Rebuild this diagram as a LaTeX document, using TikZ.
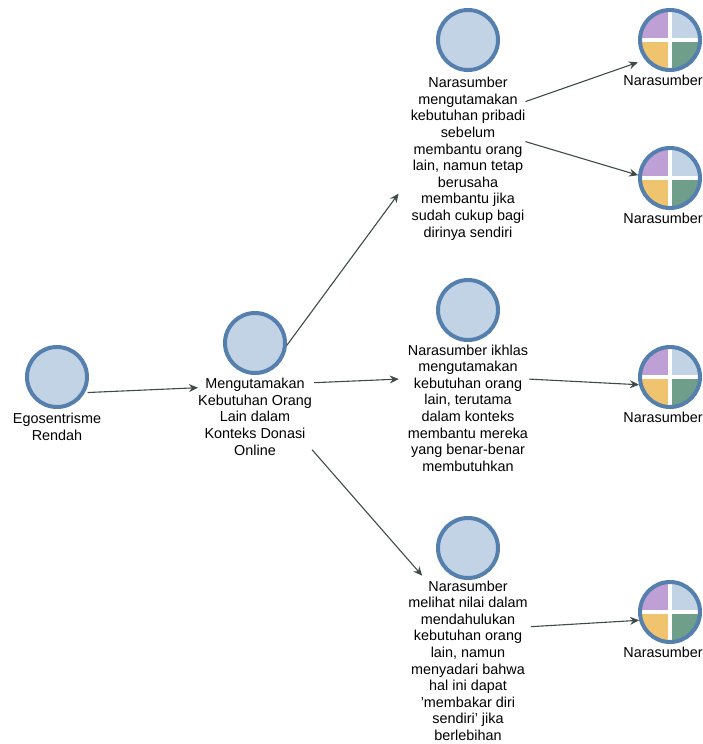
\documentclass[tikz,border=0pt]{standalone}
\usepackage{fontspec}
\setmainfont{Liberation Sans}
\usetikzlibrary{positioning,arrows.meta}
\definecolor{ringblue}{HTML}{5580AE}
\definecolor{discblue}{HTML}{C3D3E6}
\definecolor{quadpurple}{HTML}{BE9FD6}
\definecolor{quadyellow}{HTML}{F0C46E}
\definecolor{quadgreen}{HTML}{6F9F8B}
\definecolor{linkgrey}{HTML}{3E4B49}
\tikzset{
    theme/.style={circle,draw=ringblue,line width=4pt,fill=discblue,minimum size=60pt,inner sep=0pt},
    casenode/.style={theme,path picture={
        \fill[quadpurple] (path picture bounding box.center) rectangle (path picture bounding box.north west);
        \fill[discblue] (path picture bounding box.center) rectangle (path picture bounding box.north east);
        \fill[quadyellow] (path picture bounding box.center) rectangle (path picture bounding box.south west);
        \fill[quadgreen] (path picture bounding box.center) rectangle (path picture bounding box.south east);
        \draw[white,line width=3.2pt] (path picture bounding box.north) -- (path picture bounding box.south);
        \draw[white,line width=3.2pt] (path picture bounding box.west) -- (path picture bounding box.east);
    }},
    caption/.style={align=center,inner sep=0pt,font=\fontsize{14.4}{16.6}\selectfont},
    link/.style={-{Stealth[length=9pt,width=8pt,inset=3pt]},linkgrey,line width=1.1pt}
}
\begin{document}
\begin{tikzpicture}[x=1pt,y=-1pt]
        \useasboundingbox (0,0) rectangle (703,744);
        %% root and main theme
        \node[theme] (rendah) at (57,377) {};
        \node[caption,below=4pt of rendah] (rendahtxt) {Egosentrisme\\Rendah};
        \node[theme] (donasi) at (255,343) {};
        \node[caption,below=3pt of donasi] (donasitxt) {Mengutamakan\\Kebutuhan Orang\\Lain dalam\\Konteks Donasi\\Online};
        %% sub themes
        \node[theme] (pribadi) at (468,40) {};
        \node[caption,below=5pt of pribadi] (pribaditxt) {Narasumber\\mengutamakan\\kebutuhan pribadi\\sebelum\\membantu orang\\lain, namun tetap\\berusaha\\membantu jika\\sudah cukup bagi\\dirinya sendiri};
        \node[theme] (ikhlas) at (468,310) {};
        \node[caption,below=2.5pt of ikhlas] (ikhlastxt) {Narasumber ikhlas\\mengutamakan\\kebutuhan orang\\lain, terutama\\dalam konteks\\membantu mereka\\yang benar-benar\\membutuhkan};
        \node[theme] (nilai) at (468,548) {};
        \node[caption,below=0.5pt of nilai] (nilaitxt) {Narasumber\\melihat nilai dalam\\mendahulukan\\kebutuhan orang\\lain, namun\\menyadari bahwa\\hal ini dapat\\'membakar diri\\sendiri' jika\\berlebihan};
        %% cases
        \node[casenode] (casea) at (670,40) {};
        \node[caption,below=2.5pt of casea,xshift=-7pt] (caseatxt) {Narasumber};
        \node[casenode] (caseb) at (670,178) {};
        \node[caption,below=2.5pt of caseb,xshift=-7pt] (casebtxt) {Narasumber};
        \node[casenode] (casec) at (670,377) {};
        \node[caption,below=2.5pt of casec,xshift=-7pt] (casectxt) {Narasumber};
        \node[casenode] (cased) at (670,612) {};
        \node[caption,below=3pt of cased,xshift=-7pt] (casedtxt) {Narasumber};
        %% links
        \draw[link] ([shift={(2,1)}]rendah.-27) -- ([shift={(0,-29)}]donasitxt.west);
        \draw[link] (donasi.-4) -- ([shift={(-12,35)}]pribaditxt.west);
        \draw[link] ([shift={(2,-34)}]donasitxt.east) -- ([shift={(-9,-29)}]ikhlastxt.west);
        \draw[link] ([shift={(0,33)}]donasitxt.east) -- ([shift={(14,-85)}]nilaitxt.west);
        \draw[link] ([shift={(0,-57)}]pribaditxt.east) -- ([shift={(-6,4)}]casea.-145);
        \draw[link] ([shift={(0,-17)}]pribaditxt.east) -- (caseb.175);
        \draw[link] ([shift={(1,-29)}]ikhlastxt.east) -- (casec.-166);
        \draw[link] ([shift={(3,-34)}]nilaitxt.east) -- (cased.-165);
    \end{tikzpicture}
\end{document}
